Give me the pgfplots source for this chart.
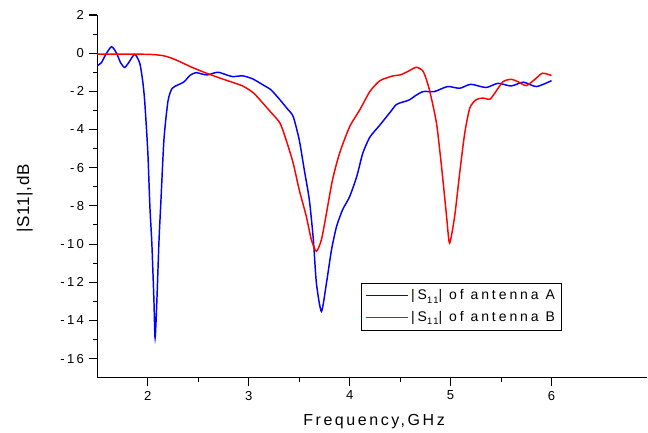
\documentclass[border=0pt]{standalone}
\usepackage{fontspec}
\setmainfont{Liberation Sans}
\newfontfamily\tickfont[LetterSpace=18]{Liberation Sans}
\newfontfamily\labfont[LetterSpace=16]{Liberation Sans}
\newfontfamily\ylabfont[LetterSpace=4]{Liberation Sans}
\newfontfamily\legfont[LetterSpace=21]{Liberation Sans}
\usepackage{pgfplots}
\pgfplotsset{compat=1.18}
\begin{document}
\begin{tikzpicture}
\begin{axis}[
  scale only axis,
  width=412.9pt, height=272.25pt,
  xmin=1.5, xmax=6.95, ymin=-17, ymax=2,
  axis x line*=bottom, axis y line*=left,
  axis line style={line width=0.9pt},
  xtick={2,3,4,5,6}, ytick={-16,-14,...,2},
  minor x tick num=1, minor y tick num=1,
  tick align=outside,
  major tick length=6.5pt, minor tick length=3.2pt,
  every tick/.style={black, line width=0.8pt},
  /pgf/number format/assume math mode=true,
  tick label style={font=\tickfont\fontsize{9.8pt}{11pt}\selectfont},
  xlabel={Frequency,GHz},
  ylabel={|S11|,dB},
  xlabel style={font=\labfont\fontsize{12pt}{14pt}\selectfont, at={(axis description cs:0.503,-0.12)}, anchor=center},
  ylabel style={font=\ylabfont\fontsize{12.8pt}{14pt}\selectfont, at={(axis description cs:-0.132,0.494)}, anchor=center},
  legend style={at={(rel axis cs:0.48,0.262)}, anchor=north west, draw=black, line width=0.5pt,
    font=\legfont\fontsize{10.5pt}{12pt}\selectfont, row sep=3pt, inner xsep=3pt, inner ysep=3pt},
  legend cell align=left,
  legend image code/.code={\draw[#1, line width=0.8pt] (0cm,0cm) -- (1.1cm,0cm);},
  clip=false,
]
\addplot[blue, line width=1.1pt, smooth, tension=0.4] coordinates {
(1.50,-0.65) (1.54,-0.5) (1.58,-0.1) (1.64,0.34) (1.69,0.0) (1.73,-0.5) (1.77,-0.75) (1.81,-0.5) (1.87,-0.06)
(1.92,-0.53) (1.95,-1.5) (1.97,-2.6) (2.00,-5.2) (2.02,-8.0) (2.04,-10.0) (2.06,-12.9) (2.072,-14.92)
(2.09,-12.9) (2.11,-9.9) (2.13,-7.7) (2.16,-4.5) (2.20,-2.5) (2.24,-1.85) (2.30,-1.66) (2.36,-1.5)
(2.42,-1.15) (2.48,-1.02) (2.54,-1.1) (2.59,-1.14) (2.65,-1.05) (2.70,-1.0) (2.77,-1.12) (2.84,-1.23)
(2.94,-1.19) (3.04,-1.35) (3.14,-1.66) (3.22,-1.92) (3.31,-2.45) (3.38,-2.9) (3.44,-3.32) (3.50,-4.54)
(3.55,-6.11) (3.60,-7.68) (3.64,-9.77) (3.67,-12.04) (3.72,-13.53) (3.77,-12.04) (3.82,-10.3) (3.87,-9.08)
(3.93,-8.2) (4.00,-7.51) (4.07,-6.46) (4.13,-5.24) (4.20,-4.4) (4.30,-3.76) (4.40,-3.1) (4.46,-2.7)
(4.51,-2.59) (4.59,-2.45) (4.66,-2.2) (4.73,-2.01) (4.84,-2.01) (4.97,-1.75) (5.09,-1.84) (5.20,-1.63)
(5.35,-1.8) (5.47,-1.58) (5.60,-1.72) (5.72,-1.52) (5.85,-1.75) (6.00,-1.44)
};
\addlegendentry{|S\raisebox{-0.45ex}{\fontsize{7pt}{8pt}\selectfont 11}| of antenna A}
\addplot[red, line width=1.1pt, smooth, tension=0.4] coordinates {
(1.50,-0.05) (1.80,-0.05) (2.00,-0.06) (2.09,-0.09) (2.15,-0.13) (2.22,-0.23) (2.32,-0.45) (2.42,-0.7)
(2.58,-1.05) (2.75,-1.37) (2.94,-1.72) (3.05,-2.1) (3.14,-2.62) (3.22,-3.1) (3.31,-3.67) (3.37,-4.54)
(3.44,-5.76) (3.50,-7.16) (3.57,-8.55) (3.62,-9.77) (3.67,-10.38) (3.72,-9.77) (3.77,-8.38) (3.83,-6.63)
(3.90,-5.24) (4.00,-3.85) (4.10,-2.97) (4.20,-2.01) (4.30,-1.44) (4.43,-1.19) (4.50,-1.14) (4.58,-0.95)
(4.66,-0.74) (4.73,-0.97) (4.79,-1.92) (4.86,-3.67) (4.91,-5.94) (4.96,-8.55) (4.99,-9.95) (5.04,-8.55)
(5.09,-6.28) (5.14,-4.19) (5.19,-2.88) (5.25,-2.45) (5.32,-2.35) (5.39,-2.41) (5.45,-2.0) (5.52,-1.49)
(5.60,-1.37) (5.67,-1.5) (5.75,-1.70) (5.84,-1.35) (5.91,-1.05) (6.00,-1.17)
};
\addlegendentry{|S\raisebox{-0.45ex}{\fontsize{7pt}{8pt}\selectfont 11}| of antenna B}
\end{axis}
\path ([shift={(-73.1pt,-40.5pt)}]current axis.south west) rectangle ([shift={(412.9pt,283.5pt)}]current axis.south west);
\end{tikzpicture}
\end{document}
